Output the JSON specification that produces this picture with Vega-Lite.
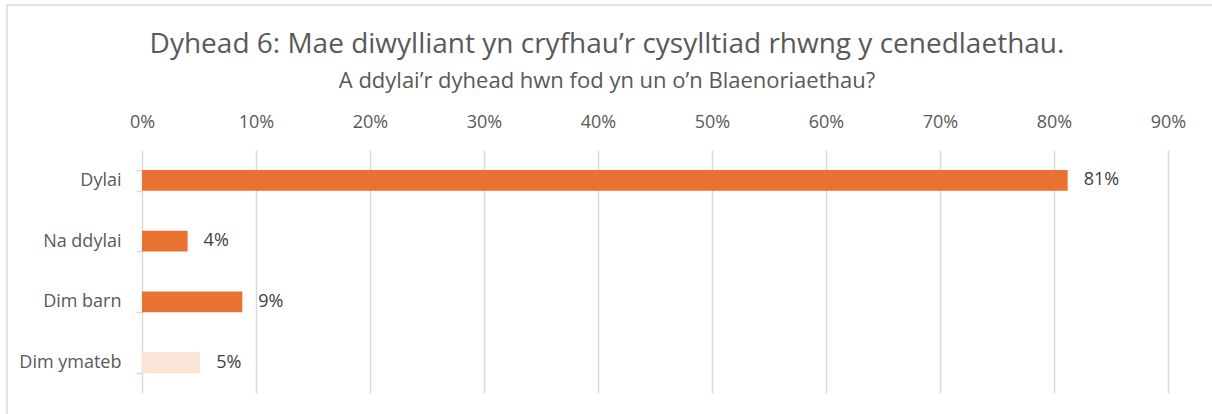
{
  "$schema": "https://vega.github.io/schema/vega-lite/v6.json",
  "width": 1208,
  "height": 412,
  "padding": {"left": 7, "top": 5, "right": -3, "bottom": -3},
  "autosize": {"type": "none"},
  "background": "white",
  "config": {"view": {"stroke": "#D9D9D9", "strokeWidth": 1.5}},
  "title": {
    "text": "Dyhead 6: Mae diwylliant yn cryfhau’r cysylltiad rhwng y cenedlaethau.",
    "subtitle": "A ddylai’r dyhead hwn fod yn un o’n Blaenoriaethau?",
    "anchor": "middle",
    "dx": -4,
    "offset": -96,
    "font": "Open Sans",
    "fontSize": 28,
    "fontWeight": "normal",
    "color": "#595959",
    "subtitleFont": "Open Sans",
    "subtitleFontSize": 22,
    "subtitleColor": "#595959",
    "subtitlePadding": 12
  },
  "data": {
    "values": [
      {"category": "Dylai", "share": 0.812},
      {"category": "Na ddylai", "share": 0.040},
      {"category": "Dim barn", "share": 0.088},
      {"category": "Dim ymateb", "share": 0.051}
    ]
  },
  "encoding": {
    "y": {
      "field": "category",
      "type": "nominal",
      "sort": null,
      "scale": {"range": [145, 388], "paddingInner": 0.66, "paddingOuter": 0.33},
      "axis": {
        "title": null,
        "orient": "left",
        "offset": -135,
        "domain": false,
        "grid": false,
        "tickBand": "extent",
        "tickSize": 6,
        "tickColor": "#D9D9D9",
        "tickWidth": 1.5,
        "labelPadding": 15,
        "labelFont": "Open Sans",
        "labelFontSize": 18,
        "labelColor": "#595959"
      }
    },
    "x": {
      "field": "share",
      "type": "quantitative",
      "scale": {"domain": [-0.11842, 0.94123], "nice": false, "zero": false},
      "axis": {
        "title": null,
        "orient": "top",
        "offset": -145,
        "values": [0, 0.1, 0.2, 0.3, 0.4, 0.5, 0.6, 0.7, 0.8, 0.9],
        "format": ".0%",
        "domain": false,
        "grid": false,
        "tickSize": -243,
        "tickColor": "#D9D9D9",
        "tickWidth": 1.5,
        "labelPadding": 262,
        "labelFont": "Open Sans",
        "labelFontSize": 18,
        "labelColor": "#595959"
      }
    }
  },
  "layer": [
    {
      "mark": {"type": "bar"},
      "encoding": {
        "color": {
          "field": "category",
          "type": "nominal",
          "scale": {
            "domain": ["Dylai", "Na ddylai", "Dim barn", "Dim ymateb"],
            "range": ["#E97132", "#E97132", "#E97132", "#FBE3D6"]
          },
          "legend": null
        }
      }
    },
    {
      "mark": {"type": "text", "align": "left", "baseline": "middle", "dx": 16, "font": "Open Sans", "fontSize": 18, "color": "#404040"},
      "encoding": {"text": {"field": "share", "type": "quantitative", "format": ".0%"}}
    }
  ]
}
